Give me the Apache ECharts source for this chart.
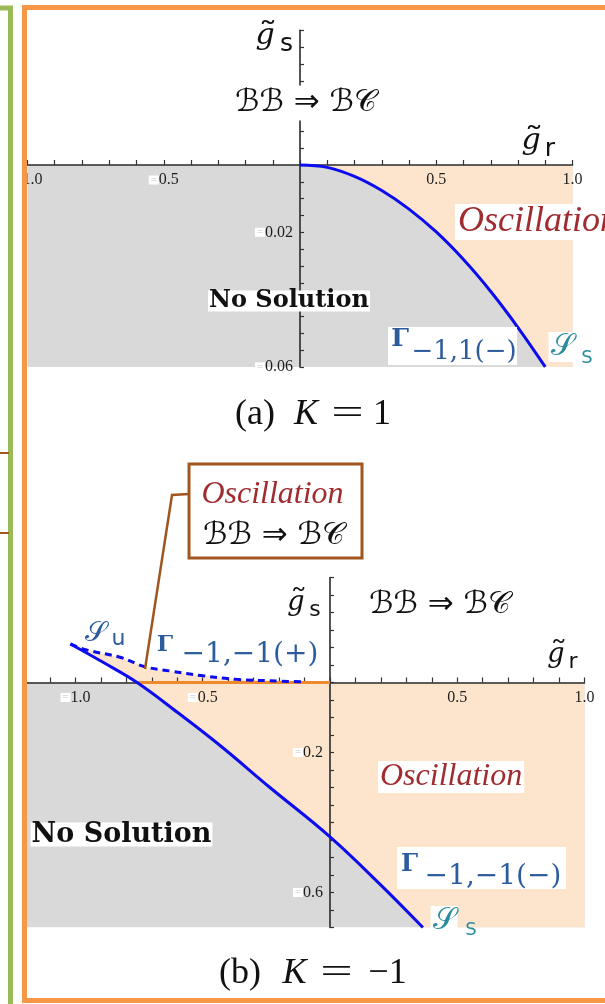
<!DOCTYPE html>
<html>
<head>
<meta charset="utf-8">
<script src="https://cdn.jsdelivr.net/npm/echarts@6/dist/echarts.min.js"></script>
<style>
  html, body { margin: 0; padding: 0; background: #ffffff; }
  #main { width: 605px; height: 1004px; }
</style>
</head>
<body>
<div id="main"></div>
<script>
// ---- data -------------------------------------------------------------
// (a) K = 1 : boundary Γ−1,1(−) between "No Solution" and "Oscillation"
const curveA = [
  [0.000, 0.0000], [0.100, -0.0007], [0.200, -0.0034], [0.300, -0.0076],
  [0.400, -0.0131], [0.500, -0.0199], [0.600, -0.0281], [0.700, -0.0376],
  [0.800, -0.0483], [0.900, -0.0600]
];
// (b) K = −1 : solid branch Γ−1,−1(−) and dashed branch Γ−1,−1(+)
const solidB = [
  [-1.020, 0.110], [-0.890, 0.057], [-0.758, 0.000], [-0.600, -0.085],
  [-0.432, -0.180], [-0.236, -0.300], [0.000, -0.441], [0.196, -0.576],
  [0.365, -0.700]
];
const dashedB = [
  [-1.020, 0.110], [-0.956, 0.093], [-0.825, 0.072], [-0.727, 0.045],
  [-0.629, 0.033], [-0.498, 0.019], [-0.367, 0.009], [-0.196, 0.004],
  [-0.100, 0.0015]
];
// axis ranges and labelled ticks
const xRangeA = [-1, 1];
const yRangeA = [-0.06, 0.04];
const xRangeB = [-1.2, 1];
const yRangeB = [-0.7, 0.3];
const xLabelsA = [-1, -0.5, 0.5, 1];
const yLabelsA = [-0.02, -0.06];
const xLabelsB = [-1, -0.5, 0.5, 1];
const yLabelsB = [-0.2, -0.6];

// ---- layout -------------------------------------------------------------
const gridA = { left: 27.5, top: 30.4, width: 545, height: 336.5 };
const gridB = { left: 24.6, top: 577.5, width: 559.9, height: 350 };
// distance (px) from the grid edge to the zero line, so the axes cross at the origin
function zeroOffsetX(g, xr) { return -g.width * (0 - xr[0]) / (xr[1] - xr[0]); }
function zeroOffsetY(g, yr) { return -g.height * (0 - yr[0]) / (yr[1] - yr[0]); }

// ---- colours ----------------------------------------------------------
const GRAY = '#d9d9d9';
const PEACH = '#fde5cd';
const BLUE = '#0c0cee';
const ORANGE = '#ee8a2e';
const BROWN = '#a0561e';
const RED = '#a02c30';
const STEEL = '#2d5c9d';
const TEAL = '#2a8c9c';

// ---- helpers ----------------------------------------------------------
function tickFormatter(list, digits) {
  return function (v) {
    const hit = list.some(t => Math.abs(t - v) < 1e-7);
    if (!hit) return '';
    return v < 0 ? '{w|=}' + Math.abs(v).toFixed(digits) : v.toFixed(digits);
  };
}
const labelRich = {
  w: { backgroundColor: '#ffffff', color: '#c4c4c4', fontSize: 11, width: 10, height: 9, lineHeight: 9, align: 'center' }
};
function axis(gridIndex, range, interval, labels, digits, isX, offset) {
  return {
    type: 'value', gridIndex, min: range[0], max: range[1], interval,
    position: isX ? 'bottom' : 'left', offset,
    z: 3,
    splitLine: { show: false },
    axisLine: { onZero: false, lineStyle: { color: '#2a2a2a', width: 1.6 } },
    axisTick: { inside: true, length: isX ? 5 : 4, lineStyle: { color: '#333333', width: 1.2 } },
    axisLabel: {
      showMinLabel: true, showMaxLabel: true,
      margin: 7,
      fontFamily: 'Liberation Serif', fontSize: 16, color: '#1e1e1e',
      formatter: tickFormatter(labels, digits), rich: labelRich
    }
  };
}
function region(idx, pts, color) {
  return {
    type: 'custom', xAxisIndex: idx, yAxisIndex: idx, clip: true, silent: true, z: 1,
    data: [pts[0]],
    renderItem: function (params, api) {
      return { type: 'polygon', shape: { points: pts.map(p => api.coord(p)) }, style: { fill: color } };
    }
  };
}
function curve(idx, data, color, type, z) {
  return {
    type: 'line', xAxisIndex: idx, yAxisIndex: idx, data, symbol: 'none', smooth: 0.4,
    silent: true, z: z || 5, clip: true,
    lineStyle: { color, width: 3, type: type || 'solid', cap: 'butt' }
  };
}

// regions built from the curves
const grayA = [[xRangeA[0], 0], [xRangeA[1], 0], [xRangeA[1], yRangeA[0]], [xRangeA[0], yRangeA[0]]];
const peachA = curveA.concat([[xRangeA[1], yRangeA[0]], [xRangeA[1], 0]]);
const grayB = [[xRangeB[0], 0], [xRangeB[1], 0], [xRangeB[1], yRangeB[0]], [xRangeB[0], yRangeB[0]]];
const solidUpper = solidB.filter(p => p[1] >= 0);
const solidLower = solidB.filter(p => p[1] <= 0);
const peachBLow = solidLower.concat([[xRangeB[1], yRangeB[0]], [xRangeB[1], 0]]);
const peachBHigh = solidUpper.concat([[0, 0]], dashedB.slice(1).reverse());
const crossB = solidB.find(p => p[1] === 0);
const orangeB = [[crossB[0], 0], [0, 0]];

// ---- annotation helpers -------------------------------------------------
function T(x, y, text, font, fill, style, el) {
  return Object.assign({
    type: 'text', x, y, z: 50, silent: true,
    style: Object.assign({ text, font, fill, align: 'center', verticalAlign: 'middle' }, style || {})
  }, el || {});
}
function R(x, y, w, h, fill, stroke, lw, z) {
  return { type: 'rect', z: z || 40, silent: true, shape: { x, y, width: w, height: h },
    style: { fill: fill || 'none', stroke: stroke || 'none', lineWidth: lw || 0 } };
}
function L(points, stroke, lw, z) {
  return { type: 'polyline', z: z || 45, silent: true, shape: { points }, style: { stroke, lineWidth: lw, fill: 'none' } };
}
// italic g with a tilde above it, followed by an upright sans subscript letter
function gTilde(x, y, size, sub, subSize, subDx, subDy, color) {
  return [
    T(x, y, 'g', 'italic ' + size + 'px "DejaVu Serif"', color),
    T(x + size * 0.1, y - size * 0.02, '\u02DC', size + 'px "DejaVu Serif"', color, null, { scaleX: 1.3 }),
    T(x + subDx, y + subDy, sub, subSize + 'px "DejaVu Sans"', color)
  ];
}

const SCRIPT = '"DejaVu Sans", "Noto Sans", sans-serif';
const sFont = s => s + 'px "DejaVu Sans"';
const capFont = s => s + 'px "Liberation Serif"';
const oscFont = s => 'italic ' + s + 'px "Liberation Serif"';
const boldSerif = s => 'bold ' + s + 'px "DejaVu Serif"';

const graphics = [].concat(
  // (a) axis names and region labels
  gTilde(265, 36, 30, 's', 25, 21.5, 8.5, '#111'),
  [
    T(306, 103, 'ℬℬ ⇒ ℬ𝒞', '31px ' + SCRIPT, '#111', { backgroundColor: '#fff', padding: [2, 4] })
  ],
  gTilde(531, 141, 30, 'r', 25, 19, 8, '#111'),
  [
    T(455, 222, 'Oscillation', oscFont(36), RED, { align: 'left', backgroundColor: '#fff', padding: [0, 3] }),
    T(289, 301, 'No Solution', boldSerif(24), '#111', { backgroundColor: '#fff', padding: [0, 1], lineHeight: 21 }),
    R(388, 327, 129, 38, '#fff', null, 0, 45),
    T(400, 339, 'Γ', boldSerif(25), STEEL),
    T(464, 352, '−1,1(−)', '26px "DejaVu Serif"', STEEL),
    T(562, 347, '𝒮', '30px ' + SCRIPT, TEAL, { backgroundColor: '#fff', padding: [0, 2] }),
    T(587, 358, 'S', sFont(18), TEAL),
    // caption (a)
    T(255, 415, '(a)', capFont(36), '#111'),
    T(306, 415, 'K', 'italic ' + capFont(36), '#111'),
    T(347.5, 415, '=', capFont(36), '#111', null, { scaleX: 1.6 }),
    T(382, 415, '1', capFont(36), '#111'),

    // (b) callout
    L([[189, 494], [172, 495], [145, 669]], BROWN, 2.5, 44),
    R(189, 464, 173, 94, '#fff', BROWN, 3, 46),
    T(272.5, 495, 'Oscillation', oscFont(32), RED, null, { z: 47 }),
    T(274, 536, 'ℬℬ ⇒ ℬ𝒞', '31px ' + SCRIPT, '#111', null, { z: 47 })
  ],
  // (b) axis names and region labels
  gTilde(296, 603, 27, 's', 22, 19, 7, '#111'),
  [
    T(440, 605, 'ℬℬ ⇒ ℬ𝒞', '31px ' + SCRIPT, '#111')
  ],
  gTilde(556, 655, 27, 'r', 22, 17, 7, '#111'),
  [
    T(96, 634, '𝒮', '28px ' + SCRIPT, STEEL),
    T(118.5, 639, 'u', sFont(22), STEEL),
    T(165, 645, 'Γ', boldSerif(23), STEEL),
    T(250, 654.5, '−1,−1(+)', '28px "DejaVu Serif"', STEEL),
    T(378, 777, 'Oscillation', oscFont(32), RED, { align: 'left', backgroundColor: '#fff', padding: [0, 2] }),
    T(121.5, 834.5, 'No Solution', boldSerif(27), '#111', { backgroundColor: '#fff', padding: [0, 1], lineHeight: 24 }),
    R(397, 847, 169, 42, '#fff', null, 0, 45),
    T(409.5, 865, 'Γ', boldSerif(24), STEEL),
    T(493, 877, '−1,−1(−)', '28px "DejaVu Serif"', STEEL),
    T(444, 921, '𝒮', '30px ' + SCRIPT, TEAL, { backgroundColor: '#fff', padding: [0, 2] }),
    T(471, 930, 'S', sFont(18), TEAL),
    // caption (b)
    T(240, 973.5, '(b)', capFont(36), '#111'),
    T(294.5, 973.5, 'K', 'italic ' + capFont(36), '#111'),
    T(336.5, 973.5, '=', capFont(36), '#111', null, { scaleX: 1.6 }),
    T(387.5, 973.5, '−1', capFont(36), '#111'),

    // page frame
    R(0, 0, 23, 1004, '#fff', null, 0, 90),
    L([[0, 8], [10.5, 8], [10.5, 1004]], '#9bbb59', 5, 95),
    L([[607, 7.5], [24.5, 7.5], [24.5, 1000.5], [607, 1000.5]], '#f79646', 5, 95),
    L([[0, 453], [9, 453]], BROWN, 2, 96),
    L([[0, 533], [9, 533]], BROWN, 2, 96)
  ]
);

// ---- chart --------------------------------------------------------------
const chart = echarts.init(document.getElementById('main'), null, { renderer: 'canvas' });
chart.setOption({
  animation: false,
  backgroundColor: '#ffffff',
  grid: [
    Object.assign({ containLabel: false, outerBoundsMode: 'none' }, gridA),
    Object.assign({ containLabel: false, outerBoundsMode: 'none' }, gridB)
  ],
  xAxis: [
    axis(0, xRangeA, 0.1, xLabelsA, 1, true, zeroOffsetY(gridA, yRangeA)),
    axis(1, xRangeB, 0.1, xLabelsB, 1, true, zeroOffsetY(gridB, yRangeB))
  ],
  yAxis: [
    axis(0, yRangeA, 0.005, yLabelsA, 2, false, zeroOffsetX(gridA, xRangeA)),
    axis(1, yRangeB, 0.05, yLabelsB, 1, false, zeroOffsetX(gridB, xRangeB))
  ],
  series: [
    region(0, grayA, GRAY),
    region(0, peachA, PEACH),
    curve(0, curveA, BLUE),
    region(1, grayB, GRAY),
    region(1, peachBLow, PEACH),
    region(1, peachBHigh, PEACH),
    curve(1, orangeB, ORANGE, 'solid', 4),
    curve(1, solidB, BLUE),
    curve(1, dashedB, BLUE, [7, 5])
  ],
  graphic: { elements: graphics }
});
</script>
</body>
</html>
